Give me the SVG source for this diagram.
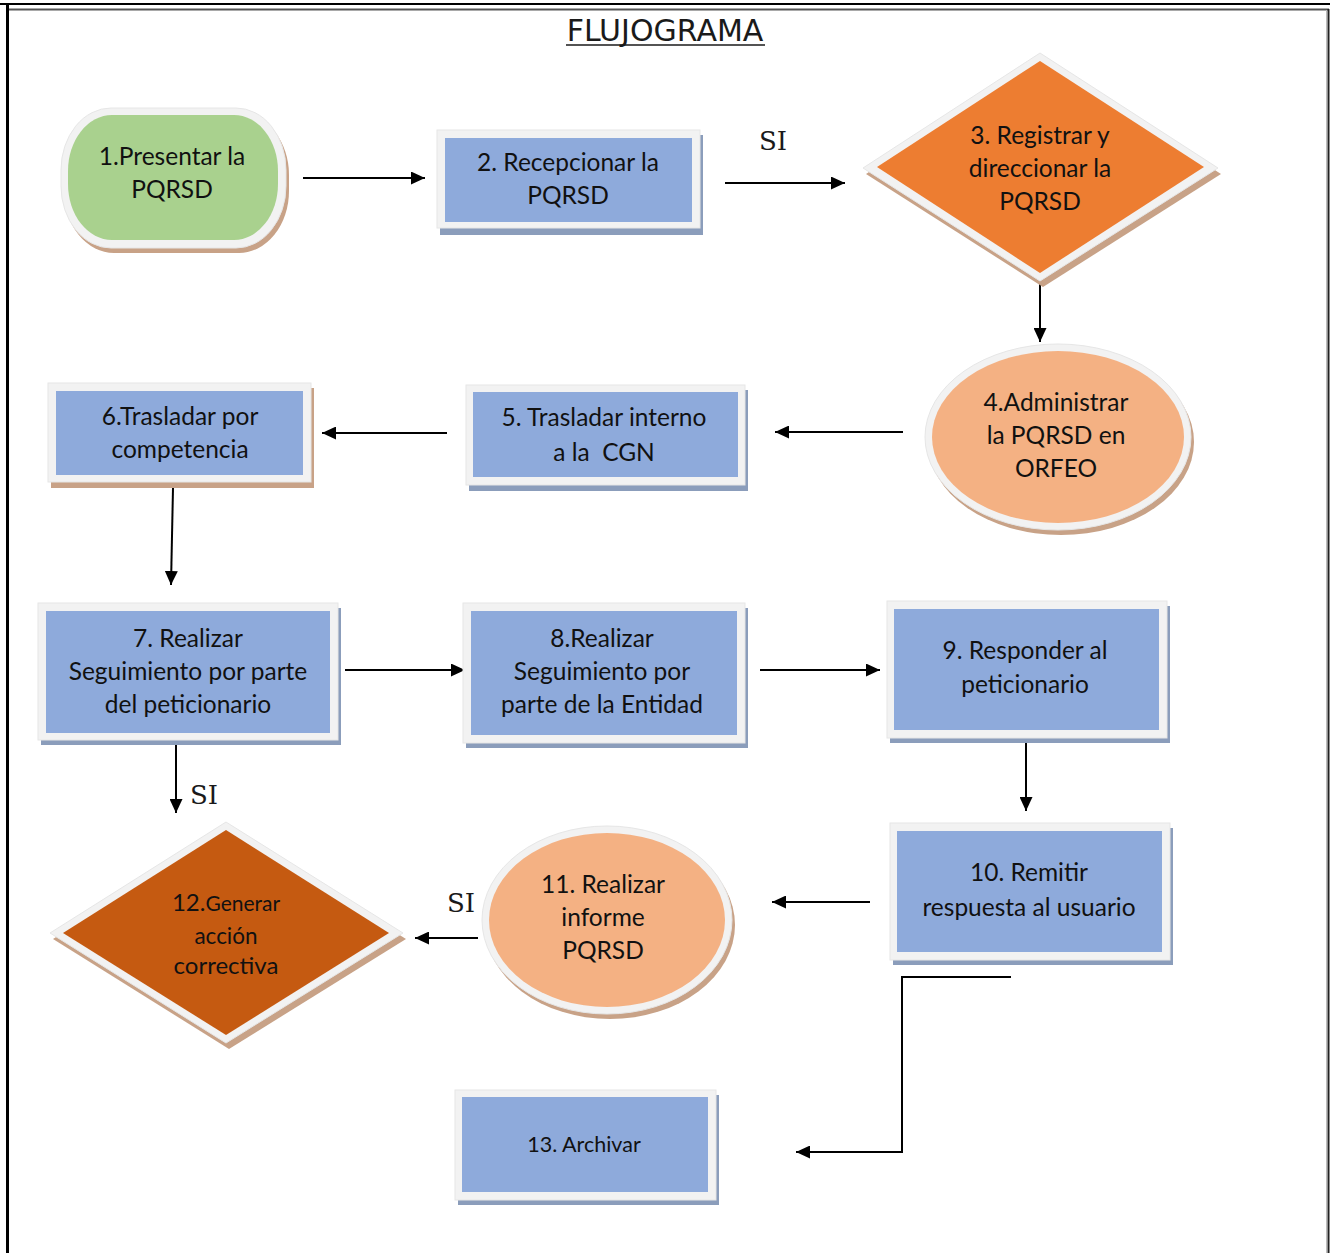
<svg xmlns="http://www.w3.org/2000/svg" width="1330" height="1253" viewBox="0 0 1330 1253">
<defs>
<marker id="ah" markerUnits="userSpaceOnUse" markerWidth="15" markerHeight="13" refX="14" refY="6.5" orient="auto">
<path d="M0,0 L14,6.5 L0,13 z" fill="#000"/>
</marker>
</defs>
<style>
.t{font-family:Lato,"Noto Sans",sans-serif;font-size:24.5px;fill:#111;text-anchor:middle}
.si{font-family:"DejaVu Serif",serif;font-size:26px;fill:#1a1a1a}
.rim{fill:#f2f2f2;stroke:#e6e6e6;stroke-width:1}
.shB{fill:#8b9dbb}
.shT{fill:#c8a287}
.blue{fill:#8eaadb}
.green{fill:#a9d18e}
.orange{fill:#ed7d31}
.dark{fill:#c55a11}
.peach{fill:#f4b183}
.c{fill:none;stroke:#000;stroke-width:2;marker-end:url(#ah)}
</style>
<rect x="0" y="0" width="1330" height="1253" fill="#fff"/>
<g id="frame">
<line x1="0" y1="4" x2="1330" y2="4" stroke="#000" stroke-width="2"/>
<line x1="7" y1="9.5" x2="1329" y2="9.5" stroke="#555" stroke-width="2"/>
<line x1="7.5" y1="4" x2="7.5" y2="1253" stroke="#000" stroke-width="3"/>
<line x1="1328.5" y1="9" x2="1328.5" y2="1253" stroke="#222" stroke-width="2"/>
<line x1="1326.5" y1="10" x2="1326.5" y2="1253" stroke="#bbb" stroke-width="1"/>
</g>
<g id="title">
<text x="665" y="41" font-family="'DejaVu Sans',sans-serif" font-size="30" fill="#1a1a1a" text-anchor="middle">FLUJOGRAMA</text>
<line x1="566" y1="45" x2="765" y2="45" stroke="#1a1a1a" stroke-width="1.5"/>
</g>
<g id="connectors">
<path class="c" d="M303,178 L425,178"/>
<path class="c" d="M725,183 L845,183"/>
<path class="c" d="M1040,277 L1040,342"/>
<path class="c" d="M903,432 L775,432"/>
<path class="c" d="M447,433 L322,433"/>
<path class="c" d="M173,488 L171,585"/>
<path class="c" d="M345,670 L465,670"/>
<path class="c" d="M760,670 L880,670"/>
<path class="c" d="M1026,735 L1026,811"/>
<path class="c" d="M870,902 L772,902"/>
<path class="c" d="M478,938 L415,938"/>
<path class="c" d="M176,745 L176,813"/>
<path class="c" d="M1011,977 L902,977 L902,1152 L796,1152"/>
<text class="si" x="759" y="150">SI</text>
<text class="si" x="190" y="804">SI</text>
<text class="si" x="447" y="912">SI</text>
</g>
<g id="n1">
<rect class="shT" x="64" y="113" width="225" height="140" rx="50" ry="62"/>
<rect class="rim" x="61" y="108" width="225" height="140" rx="50" ry="62"/>
<rect class="green" x="68" y="115" width="210" height="125" rx="44" ry="56"/>
<text class="t" x="172" y="165">1.Presentar la</text>
<text class="t" x="172" y="198">PQRSD</text>
</g>
<g id="n2">
<rect class="shB" x="440" y="135" width="263" height="100"/>
<rect class="rim" x="437" y="130" width="263" height="98"/>
<rect class="blue" x="445" y="138" width="247" height="84"/>
<text class="t" x="568" y="171">2. Recepcionar la</text>
<text class="t" x="568" y="204">PQRSD</text>
</g>
<g id="n3">
<polygon class="shT" points="1043,59 1221,174 1043,287 866,174"/>
<polygon class="rim" points="1040,53 1218,168 1040,281 863,168"/>
<polygon class="orange" points="1040,61 1204,167 1040,273 877,167"/>
<text class="t" x="1040" y="144">3. Registrar y</text>
<text class="t" x="1040" y="177">direccionar la</text>
<text class="t" x="1040" y="210">PQRSD</text>
</g>
<g id="n4">
<ellipse class="shT" cx="1061" cy="442" rx="133" ry="93"/>
<ellipse class="rim" cx="1058" cy="437" rx="133" ry="93"/>
<ellipse class="peach" cx="1058" cy="437" rx="126" ry="86"/>
<text class="t" x="1056" y="411">4.Administrar</text>
<text class="t" x="1056" y="444">la PQRSD en</text>
<text class="t" x="1056" y="477">ORFEO</text>
</g>
<g id="n5">
<rect class="shB" x="469" y="390" width="279" height="101"/>
<rect class="rim" x="466" y="385" width="279" height="100"/>
<rect class="blue" x="473" y="392" width="265" height="85"/>
<text class="t" x="604" y="426">5. Trasladar interno</text>
<text class="t" x="604" y="461" xml:space="preserve">a la  CGN</text>
</g>
<g id="n6">
<rect class="shT" x="51" y="388" width="263" height="100"/>
<rect class="rim" x="48" y="383" width="263" height="99"/>
<rect class="blue" x="56" y="391" width="247" height="84"/>
<text class="t" x="180" y="425">6.Trasladar por</text>
<text class="t" x="180" y="458">competencia</text>
</g>
<g id="n7">
<rect class="shB" x="41" y="608" width="300" height="137"/>
<rect class="rim" x="38" y="603" width="300" height="137"/>
<rect class="blue" x="46" y="611" width="284" height="122"/>
<text class="t" x="188" y="647">7. Realizar</text>
<text class="t" x="188" y="680">Seguimiento por parte</text>
<text class="t" x="188" y="713">del peticionario</text>
</g>
<g id="n8">
<rect class="shB" x="466" y="608" width="282" height="140"/>
<rect class="rim" x="463" y="603" width="282" height="140"/>
<rect class="blue" x="471" y="611" width="266" height="124"/>
<text class="t" x="602" y="647">8.Realizar</text>
<text class="t" x="602" y="680">Seguimiento por</text>
<text class="t" x="602" y="713">parte de la Entidad</text>
</g>
<g id="n9">
<rect class="shB" x="890" y="606" width="280" height="137"/>
<rect class="rim" x="887" y="601" width="280" height="137"/>
<rect class="blue" x="894" y="609" width="265" height="121"/>
<text class="t" x="1025" y="659">9. Responder al</text>
<text class="t" x="1025" y="693">peticionario</text>
</g>
<g id="n10">
<rect class="shB" x="893" y="828" width="280" height="137"/>
<rect class="rim" x="890" y="823" width="280" height="137"/>
<rect class="blue" x="897" y="831" width="265" height="121"/>
<text class="t" x="1029" y="881">10. Remitir</text>
<text class="t" x="1029" y="916">respuesta al usuario</text>
</g>
<g id="n11">
<ellipse class="shT" cx="610" cy="925" rx="125" ry="94"/>
<ellipse class="rim" cx="607" cy="920" rx="125" ry="94"/>
<ellipse class="peach" cx="607" cy="920" rx="118" ry="87"/>
<text class="t" x="603" y="893">11. Realizar</text>
<text class="t" x="603" y="926">informe</text>
<text class="t" x="603" y="959">PQRSD</text>
</g>
<g id="n12">
<polygon class="shT" points="229,828 406,939 229,1049 53,939"/>
<polygon class="rim" points="226,822 403,933 226,1043 50,933"/>
<polygon class="dark" points="226,830 389,933 226,1035 63,933"/>
<text class="t" x="226" y="911"><tspan style="font-size:24px">12.</tspan><tspan style="font-size:21px">Generar</tspan></text>
<text class="t" x="226" y="944" style="font-size:22.5px">acción</text>
<text class="t" x="226" y="974" style="font-size:24px">correctiva</text>
</g>
<g id="n13">
<rect class="shB" x="458" y="1095" width="261" height="110"/>
<rect class="rim" x="455" y="1090" width="261" height="110"/>
<rect class="blue" x="462" y="1097" width="246" height="95"/>
<text class="t" x="584" y="1152" style="font-size:21.5px">13. Archivar</text>
</g>
</svg>
